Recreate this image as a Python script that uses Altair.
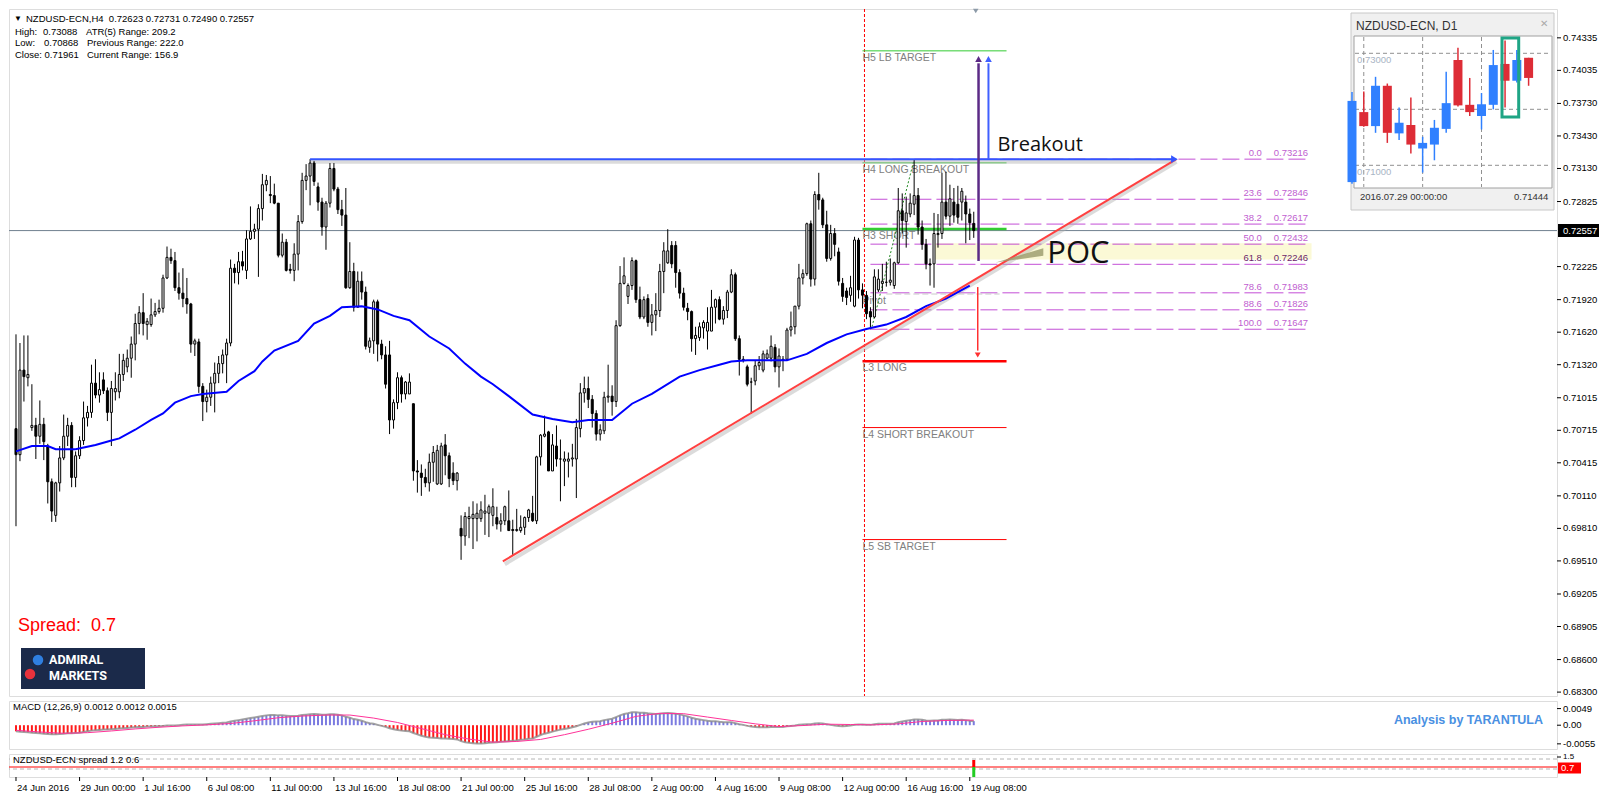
import altair as alt
import pandas as pd

W, H1, H2, H3 = 1548, 687, 48, 23
FONT = "Liberation Sans"

# ---------------- H4 candles ----------------
opens = [0.7073, 0.7049, 0.7127, 0.7120, 0.7074, 0.7076, 0.7066, 0.7077, 0.7057, 0.7024,
         0.6993, 0.7023, 0.7046, 0.7066, 0.7076, 0.7028, 0.7048, 0.7062, 0.7083, 0.7088,
         0.7115, 0.7104, 0.7118, 0.7108, 0.7088, 0.7107, 0.7107, 0.7123, 0.7130, 0.7138,
         0.7151, 0.7170, 0.7180, 0.7169, 0.7169, 0.7178, 0.7181, 0.7184, 0.7212, 0.7231,
         0.7228, 0.7203, 0.7198, 0.7193, 0.7188, 0.7151, 0.7153, 0.7112, 0.7098, 0.7102,
         0.7115, 0.7124, 0.7133, 0.7141, 0.7152, 0.7221, 0.7217, 0.7227, 0.7219, 0.7248,
         0.7255, 0.7257, 0.7276, 0.7298, 0.7289, 0.7288, 0.7281, 0.7233, 0.7245, 0.7220,
         0.7219, 0.7234, 0.7264, 0.7302, 0.7306, 0.7318, 0.7296, 0.7282, 0.7259, 0.7281,
         0.7313, 0.7294, 0.7275, 0.7270, 0.7203, 0.7218, 0.7185, 0.7209, 0.7199, 0.7148,
         0.7154, 0.7190, 0.7151, 0.7141, 0.7141, 0.7081, 0.7097, 0.7120, 0.7105, 0.7105,
         0.7096, 0.7034, 0.7032, 0.7028, 0.7023, 0.7042, 0.7022, 0.7022, 0.7058, 0.7048,
         0.7032, 0.7025, 0.6981, 0.6974, 0.6990, 0.6990, 0.6990, 0.6990, 0.6995, 0.6995,
         0.6993, 0.6991, 0.6985, 0.6988, 0.6988, 0.6980, 0.6979, 0.6979, 0.6982, 0.6991,
         0.6995, 0.6988, 0.7047, 0.7066, 0.7070, 0.7034, 0.7057, 0.7045, 0.7043, 0.7043,
         0.7045, 0.7045, 0.7073, 0.7106, 0.7110, 0.7100, 0.7087, 0.7068, 0.7071, 0.7102,
         0.7103, 0.7098, 0.7168, 0.7207, 0.7195, 0.7205, 0.7228, 0.7192, 0.7176, 0.7193,
         0.7171, 0.7178, 0.7182, 0.7218, 0.7226, 0.7242, 0.7242, 0.7217, 0.7198, 0.7184,
         0.7181, 0.7156, 0.7157, 0.7166, 0.7163, 0.7163, 0.7185, 0.7192, 0.7174, 0.7182,
         0.7199, 0.7215, 0.7156, 0.7137, 0.7130, 0.7116, 0.7117, 0.7131, 0.7127, 0.7138,
         0.7138, 0.7148, 0.7130, 0.7136, 0.7137, 0.7164, 0.7167, 0.7186, 0.7212, 0.7216,
         0.7262, 0.7211, 0.7289, 0.7284, 0.7261, 0.7230, 0.7253, 0.7236, 0.7207, 0.7200,
         0.7196, 0.7186, 0.7247, 0.7201, 0.7196, 0.7181, 0.7176, 0.7201, 0.7207, 0.7208,
         0.7208, 0.7205, 0.7226, 0.7274, 0.7264, 0.7271, 0.7280, 0.7288, 0.7259, 0.7243,
         0.7225, 0.7225, 0.7252, 0.7253, 0.7282, 0.7269, 0.7282, 0.7280, 0.7282, 0.7282,
         0.7271, 0.72623]
highs = [0.7160, 0.7152, 0.7159, 0.7159, 0.7114, 0.7083, 0.7099, 0.7083, 0.7059, 0.7027,
         0.7024, 0.7057, 0.7086, 0.7083, 0.7079, 0.7052, 0.7066, 0.7098, 0.7094, 0.7132,
         0.7137, 0.7125, 0.7125, 0.7111, 0.7117, 0.7125, 0.7142, 0.7142, 0.7146, 0.7158,
         0.7179, 0.7186, 0.7198, 0.7175, 0.7193, 0.7189, 0.7192, 0.7215, 0.7241, 0.7239,
         0.7236, 0.7217, 0.7221, 0.7212, 0.7189, 0.7156, 0.7156, 0.7115, 0.7109, 0.7121,
         0.7134, 0.7140, 0.7146, 0.7156, 0.7229, 0.7225, 0.7236, 0.7237, 0.7256, 0.7278,
         0.7262, 0.7280, 0.7308, 0.7307, 0.7306, 0.7299, 0.7281, 0.7253, 0.7248, 0.7225,
         0.7244, 0.7270, 0.7309, 0.7317, 0.73216, 0.7320, 0.7300, 0.7286, 0.7283, 0.7318,
         0.7318, 0.7296, 0.7284, 0.7295, 0.7245, 0.7226, 0.7218, 0.7218, 0.7204, 0.7157,
         0.7192, 0.7192, 0.7155, 0.7149, 0.7154, 0.7100, 0.7125, 0.7122, 0.7117, 0.7124,
         0.7096, 0.7044, 0.7040, 0.7036, 0.7050, 0.7057, 0.7058, 0.7060, 0.7068, 0.7051,
         0.7042, 0.7033, 0.6993, 0.6996, 0.7001, 0.7006, 0.7004, 0.7006, 0.7012, 0.7003,
         0.7018, 0.7001, 0.6995, 0.7002, 0.7016, 0.6989, 0.6999, 0.6993, 0.6992, 0.6999,
         0.7011, 0.7048, 0.7068, 0.7085, 0.7071, 0.7068, 0.7076, 0.7063, 0.7052, 0.7051,
         0.7059, 0.7082, 0.7115, 0.7121, 0.7121, 0.7104, 0.7090, 0.7077, 0.7107, 0.7132,
         0.7113, 0.7173, 0.7223, 0.7231, 0.7207, 0.7231, 0.7229, 0.7204, 0.7195, 0.7197,
         0.7188, 0.7198, 0.7225, 0.7245, 0.7257, 0.7246, 0.7246, 0.7220, 0.7203, 0.7189,
         0.7182, 0.7167, 0.7171, 0.7173, 0.7185, 0.7201, 0.7193, 0.7195, 0.7186, 0.7201,
         0.7220, 0.7217, 0.7159, 0.7140, 0.7132, 0.7120, 0.7136, 0.7140, 0.7145, 0.7146,
         0.7159, 0.7151, 0.7147, 0.7140, 0.7166, 0.7181, 0.7186, 0.7225, 0.7220, 0.7263,
         0.7265, 0.7292, 0.7309, 0.7286, 0.7274, 0.7261, 0.7258, 0.7240, 0.7212, 0.7203,
         0.7214, 0.7250, 0.7249, 0.7207, 0.7200, 0.7185, 0.7220, 0.7220, 0.7225, 0.7227,
         0.7230, 0.7227, 0.7295, 0.7290, 0.7287, 0.7290, 0.73216, 0.7295, 0.7265, 0.7248,
         0.7230, 0.7272, 0.7271, 0.7309, 0.7310, 0.7298, 0.7295, 0.7297, 0.7295, 0.7288,
         0.7276, 0.72731]
lows = [0.6983, 0.7043, 0.7098, 0.7112, 0.7071, 0.7045, 0.7059, 0.7044, 0.7004, 0.6987,
        0.6987, 0.7015, 0.7044, 0.7057, 0.7019, 0.7019, 0.7045, 0.7058, 0.7075, 0.7083,
        0.7101, 0.7097, 0.7105, 0.7080, 0.7057, 0.7099, 0.7101, 0.7117, 0.7125, 0.7120,
        0.7136, 0.7160, 0.7159, 0.7155, 0.7167, 0.7176, 0.7179, 0.7180, 0.7211, 0.7225,
        0.7200, 0.7192, 0.7185, 0.7179, 0.7143, 0.7140, 0.7106, 0.7080, 0.7088, 0.7094,
        0.7088, 0.7115, 0.7124, 0.7115, 0.7149, 0.7207, 0.7206, 0.7219, 0.7211, 0.7247,
        0.7248, 0.7213, 0.7265, 0.7292, 0.7281, 0.7280, 0.7231, 0.7231, 0.7218, 0.7216,
        0.7209, 0.7219, 0.7262, 0.7293, 0.7279, 0.7297, 0.7274, 0.7251, 0.7238, 0.7277,
        0.7292, 0.7271, 0.7260, 0.7202, 0.7202, 0.7181, 0.7185, 0.7192, 0.7146, 0.7143,
        0.7142, 0.7135, 0.7137, 0.7110, 0.7068, 0.7073, 0.7091, 0.7097, 0.7100, 0.7105,
        0.7025, 0.7014, 0.7011, 0.7019, 0.7015, 0.7024, 0.7021, 0.7021, 0.7030, 0.7019,
        0.7021, 0.7016, 0.6952, 0.6965, 0.6972, 0.6962, 0.6969, 0.6987, 0.6975, 0.6973,
        0.6983, 0.6980, 0.6978, 0.6984, 0.6979, 0.6956, 0.6978, 0.6977, 0.6975, 0.6987,
        0.6987, 0.6985, 0.7039, 0.7065, 0.7034, 0.7034, 0.7038, 0.7006, 0.7020, 0.7028,
        0.7038, 0.7009, 0.7065, 0.7097, 0.7092, 0.7074, 0.7062, 0.7062, 0.7068, 0.7097,
        0.7085, 0.7093, 0.7167, 0.7206, 0.7188, 0.7201, 0.7189, 0.7174, 0.7174, 0.7167,
        0.7159, 0.7163, 0.7176, 0.7198, 0.7225, 0.7221, 0.7203, 0.7193, 0.7182, 0.7173,
        0.7144, 0.7141, 0.7154, 0.7156, 0.7146, 0.7163, 0.7170, 0.7173, 0.7169, 0.7175,
        0.7198, 0.7154, 0.7122, 0.7134, 0.7112, 0.70868, 0.7113, 0.7127, 0.7125, 0.7137,
        0.7135, 0.7125, 0.7111, 0.7126, 0.7136, 0.7158, 0.7160, 0.7183, 0.7206, 0.7214,
        0.7204, 0.7205, 0.7275, 0.7258, 0.7227, 0.7228, 0.7232, 0.7205, 0.7190, 0.7187,
        0.7190, 0.7185, 0.7193, 0.7184, 0.7174, 0.71647, 0.7175, 0.7199, 0.7200, 0.7204,
        0.7205, 0.7202, 0.7225, 0.7253, 0.7240, 0.7268, 0.7270, 0.7252, 0.7238, 0.7220,
        0.7205, 0.7203, 0.7240, 0.7248, 0.7266, 0.7260, 0.7263, 0.7262, 0.7265, 0.7244,
        0.7247, 0.72490]
closes = [0.7049, 0.7127, 0.7121, 0.7123, 0.7076, 0.7066, 0.7077, 0.7061, 0.7024, 0.6997,
          0.7023, 0.7046, 0.7066, 0.7076, 0.7028, 0.7048, 0.7062, 0.7083, 0.7088, 0.7115,
          0.7104, 0.7109, 0.7108, 0.7088, 0.7110, 0.7110, 0.7123, 0.7136, 0.7138, 0.7151,
          0.7170, 0.7180, 0.7170, 0.7172, 0.7178, 0.7181, 0.7184, 0.7212, 0.7231, 0.7228,
          0.7203, 0.7198, 0.7193, 0.7188, 0.7151, 0.7154, 0.7112, 0.7098, 0.7102, 0.7115,
          0.7124, 0.7133, 0.7141, 0.7152, 0.7221, 0.7217, 0.7227, 0.7223, 0.7248, 0.7255,
          0.7257, 0.7276, 0.7298, 0.7302, 0.7288, 0.7281, 0.7233, 0.7245, 0.7219, 0.7219,
          0.7234, 0.7264, 0.7302, 0.7306, 0.7318, 0.7301, 0.7282, 0.7259, 0.7281, 0.7313,
          0.7294, 0.7275, 0.7270, 0.7203, 0.7218, 0.7185, 0.7209, 0.7199, 0.7149, 0.7154,
          0.7190, 0.7151, 0.7141, 0.7114, 0.7081, 0.7097, 0.7120, 0.7105, 0.7116, 0.7116,
          0.7034, 0.7033, 0.7028, 0.7023, 0.7042, 0.7051, 0.7053, 0.7057, 0.7048, 0.7027,
          0.7025, 0.7032, 0.6974, 0.6992, 0.6992, 0.6994, 0.6995, 0.6998, 0.6997, 0.7001,
          0.7001, 0.6985, 0.6988, 0.7001, 0.6979, 0.6979, 0.6980, 0.6982, 0.6991, 0.6998,
          0.6988, 0.7047, 0.7067, 0.7068, 0.7034, 0.7058, 0.7045, 0.7045, 0.7045, 0.7045,
          0.7046, 0.7074, 0.7106, 0.7110, 0.7100, 0.7087, 0.7068, 0.7072, 0.7102, 0.7103,
          0.7098, 0.7168, 0.7207, 0.7214, 0.7205, 0.7228, 0.7192, 0.7176, 0.7192, 0.7171,
          0.7178, 0.7182, 0.7218, 0.7237, 0.7237, 0.7225, 0.7217, 0.7198, 0.7185, 0.7181,
          0.7156, 0.7159, 0.7167, 0.7171, 0.7171, 0.7185, 0.7192, 0.7174, 0.7182, 0.7199,
          0.7215, 0.7156, 0.7137, 0.7136, 0.7114, 0.7116, 0.7131, 0.7134, 0.7142, 0.7142,
          0.7149, 0.7130, 0.7140, 0.7137, 0.7164, 0.7167, 0.7186, 0.7212, 0.7216, 0.7262,
          0.7211, 0.7289, 0.7284, 0.7261, 0.7230, 0.7253, 0.7243, 0.7209, 0.7195, 0.7194,
          0.7203, 0.7247, 0.7201, 0.71961, 0.7179, 0.7176, 0.7213, 0.7211, 0.7209, 0.7208,
          0.7210, 0.7226, 0.7274, 0.7265, 0.7272, 0.7281, 0.7288, 0.7259, 0.7243, 0.7225,
          0.7224, 0.7253, 0.7253, 0.7282, 0.7269, 0.7285, 0.7270, 0.7268, 0.7292, 0.7271,
          0.7263, 0.72557]

# moving average (blue line), read at sample bars
ma_bar = [0, 4, 8, 10, 15, 20, 24, 26, 30, 34, 37, 40, 44, 47, 53, 56, 60, 62, 65, 71,
          75, 79, 82, 87, 91, 95, 99, 104, 109, 113, 117, 120, 124, 130, 135, 140, 144, 150, 155, 160,
          167, 172, 177, 180, 184, 194, 199, 204, 209, 214, 219, 224, 229, 234, 240]
ma_val = [0.7052, 0.7057, 0.7057, 0.7054, 0.7054, 0.7058, 0.7062, 0.7064, 0.7072, 0.7081,
          0.7087, 0.7097, 0.7103, 0.7105, 0.7107, 0.7117, 0.7126, 0.7135, 0.7145, 0.7154,
          0.7170, 0.7177, 0.7185, 0.7186, 0.7183, 0.7177, 0.7173, 0.7158, 0.7147, 0.7133,
          0.7121, 0.7114, 0.7103, 0.7086, 0.7082, 0.7079, 0.7081, 0.7081, 0.7096, 0.7105,
          0.7121, 0.7127, 0.7132, 0.7135, 0.7136, 0.7136, 0.7142, 0.7152, 0.7160, 0.7165,
          0.7169, 0.7176, 0.7186, 0.7193, 0.7205]

# MACD histogram, one value per bar
macd_hist = [-0.0018, -0.0019, -0.0020, -0.0021, -0.0022, -0.0023, -0.0024, -0.0025, -0.0026, -0.0027,
             -0.0027, -0.0026, -0.0025, -0.0024, -0.0024, -0.0023, -0.0022, -0.0020, -0.0018, -0.0016,
             -0.0015, -0.0014, -0.0013, -0.0013, -0.0012, -0.0011, -0.0010, -0.0009, -0.0008, -0.0007,
             -0.0006, -0.0005, -0.0005, -0.0004, -0.0004, -0.0003, -0.0003, -0.0002, -0.0001, -0.0001,
             -0.0001, 0.0000, 0.0001, 0.0002, 0.0002, 0.0002, 0.0002, 0.0002, 0.0003, 0.0004,
             0.0005, 0.0006, 0.0007, 0.0008, 0.0011, 0.0013, 0.0015, 0.0017, 0.0019, 0.0021,
             0.0023, 0.0025, 0.0027, 0.0029, 0.0030, 0.0030, 0.0029, 0.0029, 0.0028, 0.0027,
             0.0027, 0.0028, 0.0030, 0.0031, 0.0032, 0.0033, 0.0032, 0.0031, 0.0031, 0.0032,
             0.0032, 0.0031, 0.0029, 0.0025, 0.0022, 0.0018, 0.0016, 0.0013, 0.0009, 0.0006,
             0.0004, 0.0001, -0.0002, -0.0005, -0.0009, -0.0012, -0.0014, -0.0016, -0.0017, -0.0018,
             -0.0023, -0.0027, -0.0031, -0.0034, -0.0036, -0.0037, -0.0038, -0.0039, -0.0039, -0.0040,
             -0.0041, -0.0042, -0.0047, -0.0050, -0.0052, -0.0053, -0.0054, -0.0054, -0.0053, -0.0052,
             -0.0051, -0.0050, -0.0049, -0.0048, -0.0047, -0.0046, -0.0045, -0.0043, -0.0042, -0.0040,
             -0.0039, -0.0034, -0.0029, -0.0025, -0.0022, -0.0019, -0.0016, -0.0013, -0.0011, -0.0009,
             -0.0006, -0.0003, 0.0001, 0.0005, 0.0008, 0.0010, 0.0011, 0.0012, 0.0015, 0.0017,
             0.0019, 0.0024, 0.0029, 0.0033, 0.0035, 0.0038, 0.0038, 0.0037, 0.0037, 0.0035,
             0.0034, 0.0033, 0.0034, 0.0035, 0.0036, 0.0035, 0.0034, 0.0032, 0.0029, 0.0026,
             0.0022, 0.0019, 0.0017, 0.0015, 0.0013, 0.0012, 0.0012, 0.0010, 0.0009, 0.0009,
             0.0009, 0.0006, 0.0003, 0.0001, -0.0002, -0.0004, -0.0005, -0.0006, -0.0006, -0.0006,
             -0.0005, -0.0005, -0.0005, -0.0005, -0.0003, -0.0002, -0.0001, 0.0001, 0.0002, 0.0003,
             0.0003, 0.0005, 0.0006, 0.0005, 0.0003, 0.0001, -0.0001, -0.0002, -0.0003, -0.0002,
             -0.0001, 0.0001, 0.0002, 0.0002, 0.0001, 0.0001, 0.0003, 0.0004, 0.0004, 0.0004,
             0.0004, 0.0005, 0.0009, 0.0011, 0.0013, 0.0015, 0.0017, 0.0017, 0.0016, 0.0014,
             0.0013, 0.0014, 0.0014, 0.0016, 0.0016, 0.0017, 0.0016, 0.0015, 0.0016, 0.0015,
             0.0013, 0.0012]
sig_bar = [0, 6, 12, 18, 24, 30, 36, 42, 48, 54, 60, 66, 72, 78, 84, 90, 96, 102, 108, 114, 120,
           126, 132, 138, 144, 150, 156, 162, 168, 174, 180, 186, 192, 198, 204, 210, 216, 222, 228, 234, 241]
sig_val = [-0.0015, -0.0020, -0.0024, -0.0022, -0.0017, -0.0011, -0.0006, -0.0002, 0.0001, 0.0005,
           0.0013, 0.0022, 0.0027, 0.0030, 0.0030, 0.0021, 0.0008, -0.0010, -0.0028, -0.0041, -0.0050,
           -0.0048, -0.0042, -0.0028, -0.0012, 0.0006, 0.0026, 0.0035, 0.0034, 0.0024, 0.0014,
           0.0004, -0.0004, -0.0001, 0.0003, 0.0002, 0.0001, 0.0004, 0.0011, 0.0014, 0.0015]

price_ticks = [0.74335, 0.74035, 0.73730, 0.73430, 0.73130, 0.72825, 0.72225, 0.71920,
               0.71620, 0.71320, 0.71015, 0.70715, 0.70415, 0.70110, 0.69810, 0.69510,
               0.69205, 0.68905, 0.68600, 0.68300]
current_price = 0.72557
macd_ticks = [0.0049, 0.0, -0.0055]
macd_tick_labels = ["0.0049", "0.00", "-0.0055"]
spread_now = 0.7

time_ticks = list(range(0, 241, 16))
time_labels = ["24 Jun 2016", "29 Jun 00:00", "1 Jul 16:00", "6 Jul 08:00", "11 Jul 00:00",
               "13 Jul 16:00", "18 Jul 08:00", "21 Jul 00:00", "25 Jul 16:00", "28 Jul 08:00",
               "2 Aug 00:00", "4 Aug 16:00", "9 Aug 08:00", "12 Aug 00:00", "16 Aug 16:00",
               "19 Aug 08:00"]

# camarilla pivot levels
pv_names = ["H5 LB TARGET", "H4 LONG BREAKOUT", "H3 SHORT", "L3 LONG", "L4 SHORT BREAKOUT", "L5 SB TARGET"]
pv_vals = [0.74215, 0.73182, 0.72572, 0.71351, 0.70740, 0.69707]
pv_cols = ["#33cc33", "#33cc33", "#33cc33", "#ff0000", "#ff0000", "#ff0000"]
pv_wid = [1, 1, 2.5, 2.5, 1, 1]
pivot_val = 0.71972

# fibonacci retracement
fib_lvls = ["0.0", "23.6", "38.2", "50.0", "61.8", "78.6", "88.6", "100.0"]
fib_vals = [0.73216, 0.72846, 0.72617, 0.72432, 0.72246, 0.71983, 0.71826, 0.71647]

# D1 inset candles
d1_open = [0.7070, 0.7195, 0.7170, 0.7242, 0.7157, 0.7172, 0.7130, 0.7137, 0.7165, 0.7288, 0.7208, 0.7188, 0.7208, 0.7281, 0.7251, 0.7292]
d1_high = [0.7231, 0.7232, 0.7258, 0.7246, 0.7203, 0.7221, 0.7151, 0.7181, 0.7267, 0.7310, 0.7256, 0.7229, 0.7306, 0.7323, 0.7306, 0.7292]
d1_low = [0.7067, 0.7169, 0.7158, 0.7140, 0.7145, 0.7121, 0.7087, 0.7109, 0.7158, 0.7205, 0.7188, 0.7164, 0.7200, 0.7203, 0.7248, 0.7242]
d1_close = [0.7215, 0.7170, 0.7242, 0.7158, 0.7176, 0.7137, 0.7140, 0.7167, 0.7211, 0.7207, 0.7195, 0.7209, 0.7279, 0.7251, 0.7288, 0.7256]
d1_grid = [0.73, 0.72, 0.71]

# ---------------- build ----------------
bars = pd.DataFrame({"i": list(range(len(opens))), "o": opens, "h": highs, "l": lows, "c": closes})
bars["top"] = bars[["o", "c"]].max(axis=1)
bars["bot"] = bars[["o", "c"]].min(axis=1)
ma = pd.DataFrame({"i": ma_bar, "v": ma_val})

YTOP, YBOT = 0.74601, 0.68264
XS = alt.Scale(domain=[-0.5, W / 4 - 0.5], nice=False, zero=False)
YS = alt.Scale(domain=[YBOT, YTOP], nice=False, zero=False)
PX_PER_BAR = 4.0
PRICE_PER_PX = (YTOP - YBOT) / H1


def X(f):
    return alt.X(f, type="quantitative", scale=XS, axis=None)


def Y(f, scale=YS):
    return alt.Y(f, type="quantitative", scale=scale, axis=None)


def one():
    return pd.DataFrame({"k": [0]})


def ptext(text, x, y, size=9.5, color="black", font=FONT, weight="normal", align="left", baseline="middle"):
    return alt.Chart(pd.DataFrame({"t": [text]})).mark_text(
        align=align, baseline=baseline, fontSize=size, font=font, color=color, fontWeight=weight
    ).encode(x=alt.value(x), y=alt.value(y), text="t:N")


def seg(x0, y0, x1, y1, color, width=1, dash=None, opacity=1):
    d = pd.DataFrame({"x": [x0, x1], "y": [y0, y1]})
    kw = dict(color=color, strokeWidth=width, opacity=opacity)
    if dash:
        kw["strokeDash"] = dash
    return alt.Chart(d).mark_line(**kw).encode(x=X("x"), y=Y("y"))


def arrowhead(x, y, shape, color, size):
    return alt.Chart(pd.DataFrame({"x": [x], "y": [y]})).mark_point(
        shape=shape, filled=True, color=color, size=size, opacity=1).encode(x=X("x"), y=Y("y"))


def right_axis(values, labels, scale, size=9.5):
    """Tick marks and labels on the right side, placed through the panel's y scale."""
    d = pd.DataFrame({"v": values, "t": labels})
    ticks = alt.Chart(d).mark_rule(color="black", strokeWidth=1).encode(
        x=alt.value(W), x2=alt.value(W + 4), y=Y("v", scale))
    text = alt.Chart(d).mark_text(align="left", baseline="middle", fontSize=size, font=FONT, color="black").encode(
        x=alt.value(W + 6), y=Y("v", scale), text="t:N")
    return [ticks, text]


layers = []

# POC zone
layers.append(alt.Chart(pd.DataFrame({"x0": [231], "x1": [326], "y0": [0.7229], "y1": [0.7244]}))
              .mark_rect(color="#fbf9d6").encode(x=X("x0"), x2="x1:Q", y=Y("y0"), y2="y1:Q"))
# current price line
layers.append(alt.Chart(pd.DataFrame({"p": [current_price]})).mark_rule(color="#708090", strokeWidth=1)
              .encode(y=Y("p")))
# week separator
layers.append(alt.Chart(pd.DataFrame({"x": [213.5]})).mark_rule(color="#ff0000", strokeWidth=1, strokeDash=[3, 2])
              .encode(x=X("x")))
# fib lines
fib = pd.DataFrame({"lvl": fib_lvls, "v": fib_vals, "x0": 215, "x1": 325})
layers.append(alt.Chart(fib).mark_rule(color="#c34fd6", strokeWidth=1, strokeDash=[17, 5])
              .encode(x=X("x0"), x2="x1:Q", y=Y("v")))
fib["vtxt"] = [f"{v:.5f}" for v in fib_vals]
fib["dark"] = fib["lvl"] == "61.8"
fibcol = alt.condition("datum.dark", alt.value("#6b1f6b"), alt.value("#c060d0"))
layers.append(alt.Chart(fib).mark_text(align="right", baseline="bottom", dy=-1, fontSize=9.5, font=FONT)
              .encode(x=X("xl"), y=Y("v"), text="lvl:N", color=fibcol)
              .transform_calculate(xl="313.5"))
layers.append(alt.Chart(fib).mark_text(align="left", baseline="bottom", dy=-1, fontSize=9.5, font=FONT)
              .encode(x=X("xv"), y=Y("v"), text="vtxt:N", color=fibcol)
              .transform_calculate(xv="316.5"))
# pivot levels
pv = pd.DataFrame({"name": pv_names, "v": pv_vals, "col": pv_cols, "w": pv_wid, "x0": 213, "x1": 249.25})
layers.append(alt.Chart(pv).mark_rule()
              .encode(x=X("x0"), x2="x1:Q", y=Y("v"), color=alt.Color("col:N", scale=None),
                      strokeWidth=alt.StrokeWidth("w:Q", scale=None)))
layers.append(alt.Chart(pd.DataFrame({"v": [pivot_val], "x0": [219], "x1": [247.5]}))
              .mark_rule(color="#c8c8c8", strokeDash=[6, 3]).encode(x=X("x0"), x2="x1:Q", y=Y("v")))
pvl = pd.DataFrame({"name": pv_names + ["Pivot"], "v": pv_vals + [pivot_val], "x": 213})
layers.append(alt.Chart(pvl).mark_text(align="left", baseline="top", dy=2, fontSize=10.5, font=FONT, color="#808080")
              .encode(x=X("x"), y=Y("v"), text="name:N"))
# green dotted swing line
layers.append(seg(215.4, 0.7167, 226, 0.73216, "#228b22", 1, [2, 2]))
# shadows of drawn lines
layers.append(seg(123, 0.69480, 292, 0.73192, "#b0b0b0", 4, opacity=0.45))
layers.append(seg(74, 0.73192, 291, 0.73192, "#b0b0b0", 4, opacity=0.45))
# candles
layers.append(alt.Chart(bars).mark_rule(color="black", strokeWidth=1).encode(x=X("i"), y=Y("l"), y2="h:Q"))
layers.append(alt.Chart(bars).mark_bar(size=2, stroke="black", strokeWidth=1).encode(
    x=X("i"), y=Y("bot"), y2="top:Q",
    fill=alt.condition("datum.c >= datum.o", alt.value("white"), alt.value("black"))))
# moving average
layers.append(alt.Chart(ma).mark_line(color="#0000ff", strokeWidth=2).encode(x=X("i"), y=Y("v")))
# trendline + breakout line
layers.append(seg(122.5, 0.69506, 292, 0.73216, "#ff4040", 2))
layers.append(seg(74, 0.73216, 291, 0.73216, "#3355ff", 2))
layers.append(arrowhead(291.5, 0.73216, "triangle-right", "#3355ff", 60))
# vertical arrows
layers.append(seg(242.2, 0.72277, 242.2, 0.7410, "#5b2a86", 2.5))
layers.append(arrowhead(242.2, 0.7414, "triangle-up", "#5b2a86", 45))
layers.append(seg(244.7, 0.73216, 244.7, 0.7410, "#4060ff", 2))
layers.append(arrowhead(244.7, 0.7414, "triangle-up", "#4060ff", 45))
layers.append(seg(242, 0.72036, 242, 0.7145, "#ff3030", 1.5))
layers.append(arrowhead(242, 0.7141, "triangle-down", "#ff3030", 35))
# POC callout wedge
wedge = pd.DataFrame({"x": [246.5, 258.5], "y": [0.72262, 0.72395], "y2": [0.72262, 0.72325]})
layers.append(alt.Chart(wedge).mark_area(color="#9a9a6a", opacity=0.8).encode(x=X("x"), y=Y("y"), y2="y2:Q"))
# annotations
layers.append(alt.Chart(pd.DataFrame({"t": ["Breakout"], "x": [247], "y": [0.73346]})).mark_text(
    align="left", baseline="middle", fontSize=20, font="Open Sans", color="#111111").encode(x=X("x"), y=Y("y"), text="t:N"))
layers.append(alt.Chart(pd.DataFrame({"t": ["POC"], "x": [259.5], "y": [0.72339]})).mark_text(
    align="left", baseline="middle", fontSize=31, font="Open Sans", color="#111111").encode(x=X("x"), y=Y("y"), text="t:N"))
# top shift marker
layers.append(alt.Chart(one()).mark_point(shape="triangle-down", filled=True, color="#8c9aa8", size=30, opacity=1)
              .encode(x=X("m"), y=alt.value(2)).transform_calculate(m="241.5"))

# price axis (right)
layers += right_axis(price_ticks, [f"{v:.5f}" for v in price_ticks], YS)
# current price box on the axis
cur_px = (YTOP - current_price) / (YTOP - YBOT) * H1
layers.append(alt.Chart(one()).mark_rect(color="black").encode(
    x=alt.value(W + 1), x2=alt.value(W + 42), y=alt.value(cur_px - 6.5), y2=alt.value(cur_px + 6.5)))
layers.append(ptext(f"{current_price:.5f}", W + 6, cur_px, color="white"))

# info header
layers.append(ptext("\u25bc", 5, 9.7, size=8))
layers.append(ptext("NZDUSD-ECN,H4\u00a0\u00a00.72623 0.72731 0.72490 0.72557", 17, 9.7))
layers.append(ptext("High:", 6, 22.7))
layers.append(ptext("0.73088", 34, 22.7))
layers.append(ptext("ATR(5) Range: 209.2", 77, 22.7))
layers.append(ptext("Low:", 6, 34.3))
layers.append(ptext("0.70868", 35, 34.3))
layers.append(ptext("Previous Range: 222.0", 78, 34.3))
layers.append(ptext("Close: 0.71961", 6, 46.3))
layers.append(ptext("Current Range: 156.9", 78, 46.3))

# spread text + logo
layers.append(ptext("Spread:\u00a0\u00a00.7", 9, 617, size=18, color="#ff0000"))
layers.append(alt.Chart(one()).mark_rect(color="#1b2a4a").encode(
    x=alt.value(12), x2=alt.value(136), y=alt.value(639), y2=alt.value(680)))
layers.append(alt.Chart(one()).mark_point(shape="circle", filled=True, color="#2f7fe0", size=110, opacity=1)
              .encode(x=alt.value(29), y=alt.value(651)))
layers.append(alt.Chart(one()).mark_point(shape="circle", filled=True, color="#e8323c", size=110, opacity=1)
              .encode(x=alt.value(21), y=alt.value(665)))
layers.append(ptext("ADMIRAL", 40, 651, size=12.5, color="white", font="Roboto", weight="bold"))
layers.append(ptext("MARKETS", 40, 667, size=12.5, color="white", font="Roboto", weight="bold"))

# ---- D1 inset (pixel frame anchored to the right edge, candles mapped through calculations) ----
R = W - 1566
IN_L, IN_R, IN_T, IN_B = 1363 + R, 1561 + R, 27, 179
layers.append(alt.Chart(one()).mark_rect(color="#f0f0f0", stroke="#c8c8c8", strokeWidth=1).encode(
    x=alt.value(1360 + R), x2=alt.value(1563 + R), y=alt.value(4), y2=alt.value(201)))
layers.append(alt.Chart(one()).mark_rect(color="white", stroke="#a0a0a0", strokeWidth=1).encode(
    x=alt.value(IN_L), x2=alt.value(IN_R), y=alt.value(IN_T), y2=alt.value(IN_B)))
layers.append(ptext("NZDUSD-ECN, D1", 1365 + R, 17, size=12, color="#333333"))
layers.append(ptext("\u2715", 1553 + R, 15, size=10, color="#aaaaaa", align="center"))
layers.append(ptext("2016.07.29 00:00:00", 1369 + R, 188, size=9.5, color="#333333"))
layers.append(ptext("0.71444", 1523 + R, 188, size=9.5, color="#333333"))

K0_PX, K_STEP = 1364.7 + R, 11.85
P_TOP, P_TOP_PX, P_PX = 0.73, 44.3, 5600.0
xk = f"(({K0_PX} + datum.k * {K_STEP}) / {PX_PER_BAR} - 0.5)"


def yp(field):
    return f"({YTOP} - ({P_TOP_PX} + ({P_TOP} - datum.{field}) * {P_PX}) * {PRICE_PER_PX})"


d1 = pd.DataFrame({"k": list(range(len(d1_open))), "o": d1_open, "h": d1_high, "l": d1_low, "c": d1_close})
d1["top"] = d1[["o", "c"]].max(axis=1)
d1["bot"] = d1[["o", "c"]].min(axis=1)
d1col = alt.condition("datum.c >= datum.o", alt.value("#3080ff"), alt.value("#dd2c36"))
layers.append(alt.Chart(pd.DataFrame({"g": d1_grid})).mark_rule(color="#909090", strokeDash=[4, 3])
              .encode(y=Y("gy"), x=alt.value(IN_L + 1), x2=alt.value(IN_R - 1))
              .transform_calculate(gy=yp("g")))
layers.append(alt.Chart(pd.DataFrame({"k": [1, 6, 11]})).mark_rule(color="#909090", strokeDash=[4, 3])
              .encode(x=X("kx"), y=alt.value(IN_T + 1), y2=alt.value(IN_B - 1))
              .transform_calculate(kx=xk))
layers.append(alt.Chart(d1).mark_rule(strokeWidth=1.5)
              .encode(x=X("kx"), y=Y("ly"), y2="hy:Q", color=d1col)
              .transform_calculate(kx=xk, ly=yp("l"), hy=yp("h")))
layers.append(alt.Chart(d1).mark_bar(size=9)
              .encode(x=X("kx"), y=Y("by"), y2="ty:Q", color=d1col)
              .transform_calculate(kx=xk, by=yp("bot"), ty=yp("top")))
layers.append(ptext("0.73000", 1366 + R, 51, size=9.5, color="#a8b4c4"))
layers.append(ptext("0.71000", 1366 + R, 163, size=9.5, color="#a8b4c4"))
layers.append(alt.Chart(one()).mark_rect(fill=None, stroke="#1fa585", strokeWidth=3).encode(
    x=alt.value(1511 + R), x2=alt.value(1527.7 + R), y=alt.value(29), y2=alt.value(108)))

main = alt.layer(*layers).properties(width=W, height=H1)

# MACD panel
MS = alt.Scale(domain=[-0.00702, 0.00714], nice=False, zero=False)
mh = pd.DataFrame({"i": list(range(len(macd_hist))), "v": macd_hist})
macd_layers = [
    alt.Chart(mh).mark_bar(size=2).encode(
        x=X("i"), y=Y("v", MS), y2=alt.datum(0),
        color=alt.condition("datum.v >= 0", alt.value("#7b7be0"), alt.value("#ff1a1a"))),
    alt.Chart(mh).mark_line(color="#8c8c8c", strokeWidth=2, opacity=0.8).encode(x=X("i"), y=Y("v", MS)),
    alt.Chart(pd.DataFrame({"i": sig_bar, "v": sig_val})).mark_line(color="#ff3399", strokeWidth=1).encode(
        x=X("i"), y=Y("v", MS)),
    ptext("MACD (12,26,9) 0.0012 0.0012 0.0015", 4, 6),
    ptext("Analysis by TARANTULA", W - 14, 19, size=12.5, color="#4a90e2", weight="bold", align="right"),
] + right_axis(macd_ticks, macd_tick_labels, MS)
macd = alt.layer(*macd_layers).properties(width=W, height=H2)

# spread panel
SS = alt.Scale(domain=[-0.3, 2.0], nice=False, zero=False)
tt = pd.DataFrame({"i": time_ticks, "t": time_labels})
spread_layers = [
    alt.Chart(pd.DataFrame({"v": [1.5, 0.5]})).mark_rule(color="#b4b4b4", strokeDash=[4, 3]).encode(y=Y("v", SS)),
    alt.Chart(pd.DataFrame({"v": [spread_now]})).mark_rule(color="#ff0000", strokeWidth=1).encode(y=Y("v", SS)),
    alt.Chart(pd.DataFrame({"i": [241, 241], "a": [0.7, 0.7], "b": [1.4, -0.3], "col": ["#ff0000", "#22cc22"]}))
    .mark_bar(size=3).encode(x=X("i"), y=Y("a", SS), y2="b:Q", color=alt.Color("col:N", scale=None)),
    ptext("NZDUSD-ECN spread 1.2 0.6", 4, 6),
    # small scale label at the top and the current-spread box below it
    alt.Chart(one()).mark_rule(color="black").encode(x=alt.value(W), x2=alt.value(W + 4), y=alt.value(3)),
    ptext("1.5", W + 6, 3, size=8),
    alt.Chart(one()).mark_rect(color="#ff0000").encode(
        x=alt.value(W + 1), x2=alt.value(W + 24), y=alt.value(8.5), y2=alt.value(19.5)),
    ptext("0.7", W + 4, 14, color="white", size=9.5),
    # time axis
    alt.Chart(tt).mark_rule(color="black", strokeWidth=1).encode(
        x=X("i"), y=alt.value(H3), y2=alt.value(H3 + 4)),
    alt.Chart(tt).mark_text(align="left", baseline="middle", dx=1, fontSize=9.5, font=FONT, color="black").encode(
        x=X("i"), y=alt.value(H3 + 11), text="t:N"),
]
spread = alt.layer(*spread_layers).properties(width=W, height=H3)

chart = alt.vconcat(main, macd, spread, spacing=2).properties(padding=0).configure_view(
    stroke="black", strokeWidth=1).configure(background="white")

chart.save("out.html", embed_options={"renderer": "svg", "actions": False})
